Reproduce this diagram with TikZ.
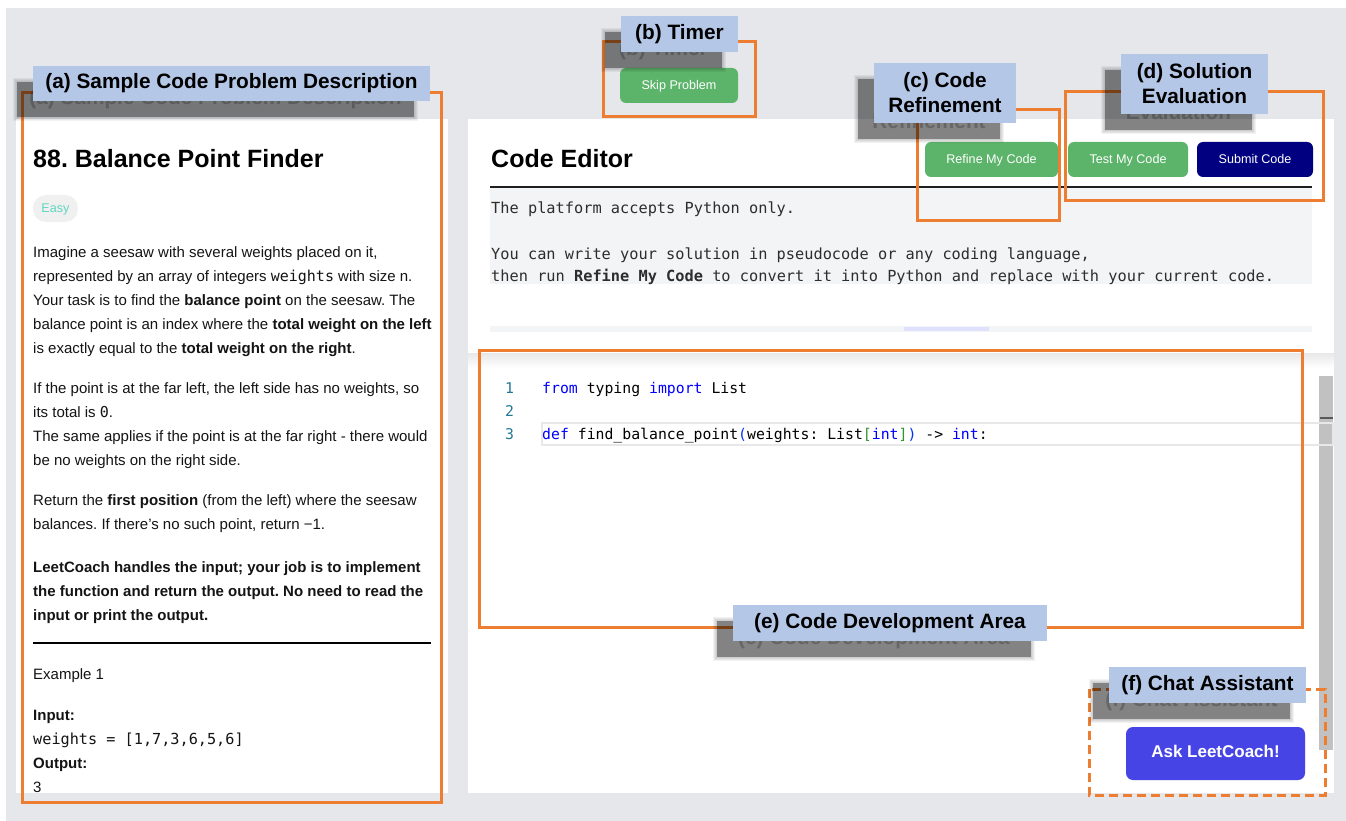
\documentclass[tikz,border=0pt]{standalone}
\usepackage{fontspec}
\setmainfont{Liberation Sans}
\setmonofont{DejaVu Sans Mono}
\usetikzlibrary{calc}
\frenchspacing

\definecolor{pagebg}{RGB}{229,231,235}
\definecolor{hiorange}{RGB}{237,125,49}
\definecolor{tagblue}{RGB}{180,199,231}
\definecolor{btngreen}{RGB}{92,180,106}
\definecolor{btnnavy}{RGB}{0,0,128}
\definecolor{btnindigo}{RGB}{70,68,229}
\definecolor{notegray}{RGB}{243,244,246}
\definecolor{easybg}{RGB}{240,240,240}
\definecolor{easyfg}{RGB}{94,214,192}
\definecolor{kwblue}{RGB}{0,0,255}
\definecolor{parenblue}{RGB}{4,49,250}
\definecolor{brgreen}{RGB}{49,147,49}
\definecolor{lnteal}{RGB}{35,120,147}
\definecolor{scrollgray}{RGB}{193,193,193}
\definecolor{notetext}{RGB}{45,45,45}

\tikzset{
  tagtext/.style={font=\fontsize{20.8}{25}\selectfont\bfseries, align=center, inner sep=0pt},
  hibox/.style={draw=hiorange, line width=3pt},
  btn/.style={rounded corners=6pt, text=white, inner sep=0pt,
    text height=0.72em, text depth=0pt,
    font=\fontsize{12.6}{15}\selectfont},
  body/.style={anchor=base west, inner sep=0pt, font=\fontsize{15}{18}\selectfont, text=black!92},
  note/.style={anchor=base west, inner sep=0pt, font=\ttfamily\fontsize{15.3}{18}\selectfont, text=notetext},
  codeln/.style={anchor=base west, inner sep=0pt, font=\ttfamily\fontsize{14.8}{18}\selectfont},
  lineno/.style={anchor=base west, inner sep=0pt, font=\ttfamily\fontsize{14.8}{18}\selectfont, text=lnteal}
}

% callout tag with a soft drop shadow: name, x1, y1, x2, y2, text
\newcommand\callouttag[6]{%
  \foreach \g in {4,3,2,1}{\fill[black,opacity=0.05] (#2-16-\g,#3+16-\g) rectangle (#4-16+\g,#5+16+\g);}
  \fill[black,opacity=0.36] (#2-16,#3+16) rectangle (#4-16,#5+16);
  \node[tagtext, text opacity=0.22] (#1ghost) at ({(#2+#4)/2-16},{(#3+#5)/2+16}) {#6};
  \fill[tagblue] (#2,#3) rectangle (#4,#5);
  \node[tagtext] (#1) at ({(#2+#4)/2},{(#3+#5)/2}) {#6};
}

\begin{document}
\begin{tikzpicture}[x=1pt,y=-1pt]
\useasboundingbox (0,0) rectangle (1346,821);
\fill[white] (0,0) rectangle (1346,821);
\fill[pagebg] (6,8) rectangle (1346,821);

% panels
\fill[white] (16,119) rectangle (448,793);
\fill[white] (468,119) rectangle (1334,793);
\shade[top color=black!9, bottom color=white] (468,353) rectangle (1334,368);

% ---------- problem description ----------
\node[anchor=base west, inner sep=0pt, font=\fontsize{25}{30}\selectfont\bfseries] (title) at (33,168) {88. Balance Point Finder};
\fill[easybg, rounded corners=13pt] (33,195) rectangle (78,222);
\node[inner sep=0pt, text=easyfg, text height=0.72em, text depth=0pt, font=\fontsize{12.6}{15}\selectfont] (easy) at (55.5,209) {Easy};

\node[body] (p1) at (33,257) {Imagine a seesaw with several weights placed on it,};
\node[body] (p2) at (33,281) {represented by an array of integers \texttt{weights} with size n.};
\node[body] (p3) at (33,305) {Your task is to find the \textbf{balance point} on the seesaw. The};
\node[body] (p4) at (33,329) {balance point is an index where the \textbf{total weight on the left}};
\node[body] (p5) at (33,353) {is exactly equal to the \textbf{total weight on the right}.};
\node[body] (p6) at (33,393) {If the point is at the far left, the left side has no weights, so};
\node[body] (p7) at (33,417) {its total is \texttt{0}.};
\node[body] (p8) at (33,441) {The same applies if the point is at the far right - there would};
\node[body] (p9) at (33,465) {be no weights on the right side.};
\node[body] (p10) at (33,505) {Return the \textbf{first position} (from the left) where the seesaw};
\node[body] (p11) at (33,529) {balances. If there's no such point, return −1.};
\node[body, font=\fontsize{15}{18}\selectfont\bfseries] (p12) at (33,572) {LeetCoach handles the input; your job is to implement};
\node[body, font=\fontsize{15}{18}\selectfont\bfseries] (p13) at (33,596) {the function and return the output. No need to read the};
\node[body, font=\fontsize{15}{18}\selectfont\bfseries] (p14) at (33,620) {input or print the output.};
\draw[black, line width=1.3pt] (33,643) -- (431,643);
\node[body] (ex) at (33,679) {Example 1};
\node[body, font=\fontsize{15}{18}\selectfont\bfseries] (inlbl) at (33,720) {Input:};
\node[body, font=\ttfamily\fontsize{15.2}{18}\selectfont] (inval) at (33,744) {weights = [1,7,3,6,5,6]};
\node[body, font=\fontsize{15}{18}\selectfont\bfseries] (outlbl) at (33,768) {Output:};
\node[body] (outval) at (33,792) {3};

% ---------- code editor header ----------
\node[anchor=base west, inner sep=0pt, font=\fontsize{25}{30}\selectfont\bfseries] (edtitle) at (491,168) {Code Editor};
\fill[notegray] (490,188) rectangle (1312,284);
\draw[black!88, line width=2pt] (490,187) -- (1312,187);
\node[note] (n1) at (491,214) {The platform accepts Python only.};
\node[note] (n2) at (491,259) {You can write your solution in pseudocode or any coding language,};
\node[note] (n3) at (491,281.5) {then run \textbf{Refine My Code} to convert it into Python and replace with your current code.};
\fill[notegray] (490,326) rectangle (1312,332);
\fill[blue!12] (904,327) rectangle (989,331);

% buttons
\node[btn, fill=btngreen, minimum width=118pt, minimum height=35pt] (skip) at (679,85.5) {Skip Problem};
\node[btn, fill=btngreen, minimum width=133pt, minimum height=35pt] (refine) at (991.5,159.5) {Refine My Code};
\node[btn, fill=btngreen, minimum width=120pt, minimum height=35pt] (test) at (1128,159.5) {Test My Code};
\node[btn, fill=btnnavy, minimum width=116pt, minimum height=35pt] (submit) at (1255,159.5) {Submit Code};

% ---------- code development area ----------
\fill[scrollgray] (1319,376) rectangle (1333,750);
\fill[black!65] (1320,417) rectangle (1333,419);
\draw[black!9, line width=1.5pt] (542,423) rectangle (1333,445);
\node[lineno] (l1) at (505,393) {1};
\node[lineno] (l2) at (505,416) {2};
\node[lineno] (l3) at (505,439.5) {3};
\node[codeln] (c1) at (542,393) {\textcolor{kwblue}{from} typing \textcolor{kwblue}{import} List};
\node[codeln] (c3) at (542,439.5) {\textcolor{kwblue}{def} find\_balance\_point\textcolor{parenblue}{(}weights: List\textcolor{brgreen}{[}\textcolor{kwblue}{int}\textcolor{brgreen}{]}\textcolor{parenblue}{)} -> \textcolor{kwblue}{int}:};

\node[btn, fill=btnindigo, rounded corners=7pt, minimum width=179pt, minimum height=53pt,
  font=\fontsize{17}{20}\selectfont\bfseries] (ask) at (1215.5,753.5) {Ask LeetCoach!};

% ---------- highlight frames ----------
\draw[hibox] (22,93) rectangle (441,802);
\draw[hibox] (603,42) rectangle (755,117);
\draw[hibox] (917,110) rectangle (1059,220);
\draw[hibox] (1065,92) rectangle (1323,201);
\draw[hibox] (479,350) rectangle (1302,627);
\draw[hibox, dash pattern=on 9pt off 5pt] (1089,689) rectangle (1325,795);

% ---------- callout tags ----------
\callouttag{taga}{33}{66}{430}{101}{(a) Sample Code Problem Description}
\callouttag{tagb}{621}{16}{738}{52}{(b) Timer}
\callouttag{tagc}{874}{63}{1016}{123}{(c) Code\\Refinement}
\callouttag{tagd}{1121}{54}{1268}{114}{(d) Solution\\Evaluation}
\callouttag{tage}{733}{605}{1047}{641}{(e) Code Development Area}
\callouttag{tagf}{1109}{667}{1306}{703}{(f) Chat Assistant}
\end{tikzpicture}
\end{document}
